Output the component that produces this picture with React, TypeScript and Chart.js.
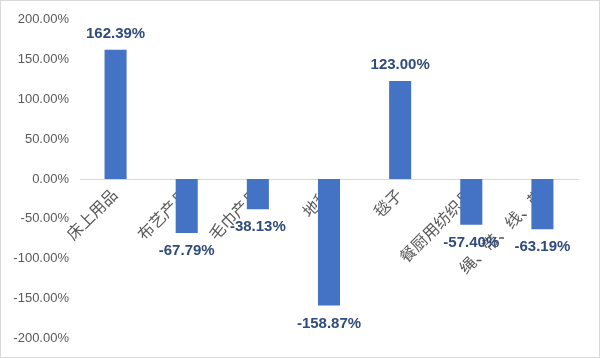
import React, { useEffect, useRef } from "react";
import { Chart, registerables } from "chart.js";

Chart.register(...registerables);

const categories = ["床上用品", "布艺产品", "毛巾产品", "地毯", "毯子", "餐厨用纺织品", "绳、带、线、带"];
const growth = [162.39, -67.79, -38.13, -158.87, 123.0, -57.4, -63.19];
const yMin = -200;
const yMax = 200;
const yStep = 50;

const FONT = "'Liberation Sans', 'Noto Sans CJK SC', Arial, sans-serif";

const valueLabels = {
  id: "valueLabels",
  afterDatasetsDraw(chart: any) {
    const ctx = chart.ctx;
    const meta = chart.getDatasetMeta(0);
    const data = chart.data.datasets[0].data as number[];
    ctx.save();
    ctx.font = `bold 15px ${FONT}`;
    ctx.fillStyle = "#2F4B7C";
    ctx.textAlign = "center";
    ctx.textBaseline = "middle";
    meta.data.forEach((el: any, i: number) => {
      const v = data[i];
      const y = v >= 0 ? el.y - 16 : el.y + 18;
      ctx.fillText(v.toFixed(2) + "%", el.x, y);
    });
    ctx.restore();
  },
};

export default function App() {
  const ref = useRef<HTMLCanvasElement | null>(null);
  useEffect(() => {
    if (!ref.current) return;
    const chart = new Chart(ref.current, {
      type: "bar",
      data: {
        labels: categories,
        datasets: [
          {
            data: growth,
            backgroundColor: "#4472C4",
            barPercentage: 0.62,
            categoryPercentage: 0.5,
          },
        ],
      },
      options: {
        animation: false,
        responsive: false,
        maintainAspectRatio: false,
        layout: { padding: { top: 12, right: 21, bottom: 8, left: 0 } },
        plugins: { legend: { display: false }, tooltip: { enabled: false } },
        scales: {
          x: {
            position: { y: 0 } as any,
            grid: { display: false, drawTicks: false },
            border: { display: true, color: "#d9d9d9", width: 1 },
            ticks: {
              autoSkip: false,
              minRotation: 45,
              maxRotation: 45,
              padding: 7,
              color: "#595959",
              font: { family: FONT, size: 16 },
            },
          },
          y: {
            min: yMin,
            max: yMax,
            grid: { display: false, drawTicks: false },
            border: { display: false },
            ticks: {
              stepSize: yStep,
              padding: 11,
              color: "#595959",
              font: { family: FONT, size: 13 },
              callback: (v: any) => Number(v).toFixed(2) + "%",
            },
            afterFit: (scale: any) => {
              scale.width = 79;
            },
          },
        },
      },
      plugins: [valueLabels],
    });
    return () => chart.destroy();
  }, []);
  return (
    <div
      style={{
        position: "absolute",
        left: 0,
        top: 0,
        width: 600,
        height: 358,
        boxSizing: "border-box",
        border: "1px solid #d9d9d9",
        background: "#fff",
      }}
    >
      <canvas ref={ref} width={598} height={356} style={{ display: "block" }} />
    </div>
  );
}
